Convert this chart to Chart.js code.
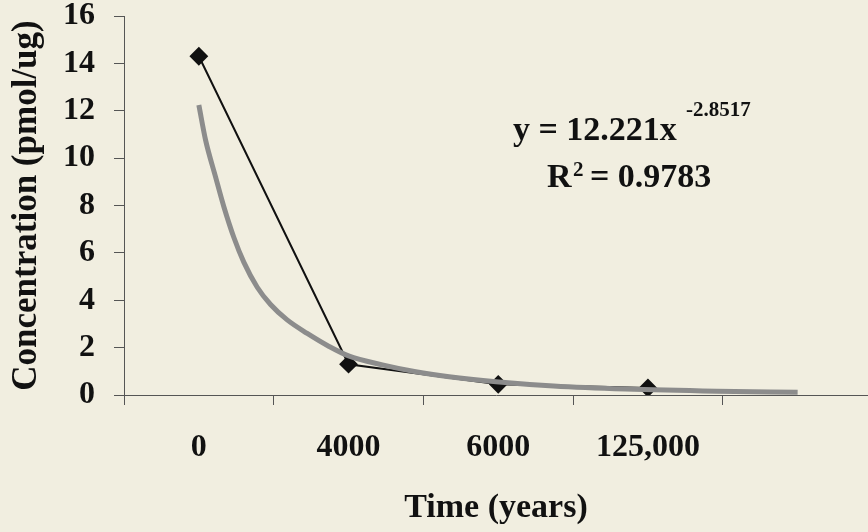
<!DOCTYPE html>
<html lang="en">
<head>
<meta charset="UTF-8">
<title>Concentration vs time</title>
<script src="https://cdn.jsdelivr.net/npm/chart.js"></script>
<style>
  html, body { margin: 0; padding: 0; background: #f1eee0; }
  #wrap { width: 868px; height: 532px; }
</style>
</head>
<body>
<div id="wrap"><canvas id="myChart" width="868" height="532"></canvas></div>
<script>
const categories = ['0', '4000', '6000', '125,000'];
const concentration = [14.3, 1.3, 0.45, 0.3];
// gray power trendline (x in category units)
const trendX = [0, 0.045, 0.112, 0.167, 0.234, 0.301, 0.39, 0.479, 0.59, 0.724, 0.87, 1.0, 1.226, 1.449, 1.672, 1.985, 2.37, 2.85, 3.46, 4.0];
const trendY = [12.24, 10.76, 9.2, 7.95, 6.65, 5.6, 4.55, 3.82, 3.17, 2.6, 2.05, 1.65, 1.27, 0.98, 0.77, 0.56, 0.38, 0.25, 0.16, 0.12];
const yMin = 0, yMax = 16, yStep = 2;
const equation = 'y = 12.221x';
const exponent = '-2.8517';
const rSquared = '0.9783';

const serif = '"Liberation Serif", "Times New Roman", serif';
const axisColor = '#555';

const equationLabel = {
    id: 'equationLabel',
    afterDraw(chart) {
        const ctx = chart.ctx;
        ctx.save();
        ctx.fillStyle = '#111';
        ctx.textBaseline = 'alphabetic';
        ctx.font = 'bold 34px ' + serif;
        ctx.fillText(equation, 513, 140);
        ctx.font = 'bold 21px ' + serif;
        ctx.fillText(exponent, 686, 116);
        ctx.font = 'bold 34px ' + serif;
        ctx.fillText('R', 547, 187);
        ctx.font = 'bold 21px ' + serif;
        ctx.fillText('2', 573, 176);
        ctx.font = 'bold 34px ' + serif;
        ctx.fillText('= ' + rSquared, 590, 187);
        ctx.restore();
    }
};

const ctx = document.getElementById('myChart').getContext('2d');
new Chart(ctx, {
    type: 'line',
    data: {
        datasets: [{
            label: 'Concentration',
            data: concentration.map((v, i) => ({ x: i, y: v })),
            borderColor: '#111',
            borderWidth: 2,
            pointStyle: 'rectRot',
            pointRadius: 8,
            pointBackgroundColor: '#111',
            pointBorderColor: '#111',
            order: 1
        }, {
            label: 'Power trendline',
            data: trendX.map((x, i) => ({ x: x, y: trendY[i] })),
            borderColor: '#8c8c8c',
            borderWidth: 5,
            pointRadius: 0,
            cubicInterpolationMode: 'monotone',
            order: 0
        }]
    },
    options: {
        responsive: false,
        animation: false,
        layout: { padding: 0, autoPadding: false },
        plugins: {
            legend: { display: false },
            tooltip: { enabled: false }
        },
        scales: {
            x: {
                type: 'linear',
                min: -0.5,
                max: 4.47,
                afterBuildTicks: s => {
                    const t = [];
                    categories.forEach((c, i) => { t.push({ value: i - 0.5 }); t.push({ value: i }); });
                    t.push({ value: categories.length - 0.5 });
                    s.ticks = t;
                },
                afterFit: s => { s.height = 137; s.paddingLeft = 0; s.paddingRight = 0; },
                border: { color: axisColor, width: 1 },
                grid: {
                    drawOnChartArea: false,
                    tickLength: 10,
                    color: c => (c.tick && Number.isInteger(c.tick.value)) ? 'rgba(0,0,0,0)' : axisColor
                },
                ticks: {
                    autoSkip: false,
                    maxRotation: 0,
                    padding: 24,
                    color: '#111',
                    font: { family: serif, size: 32, weight: 'bold' },
                    callback: v => Number.isInteger(v) ? categories[v] : ''
                },
                title: {
                    display: true,
                    text: 'Time (years)',
                    color: '#111',
                    font: { family: serif, size: 34, weight: 'bold' },
                    padding: { top: 0, bottom: 3 }
                }
            },
            y: {
                min: yMin,
                max: yMax,
                afterFit: s => { s.width = 124; s.paddingTop = 16; s.paddingBottom = 0; },
                border: { color: axisColor, width: 1 },
                grid: { drawOnChartArea: false, tickLength: 10, color: axisColor },
                ticks: {
                    stepSize: yStep,
                    padding: 19,
                    color: '#111',
                    font: { family: serif, size: 32, weight: 'bold' }
                },
                title: {
                    display: true,
                    text: 'Concentration (pmol/ug)',
                    color: '#111',
                    font: { family: serif, size: 35, weight: 'bold' },
                    padding: { top: 6, bottom: 0 }
                }
            }
        }
    },
    plugins: [equationLabel]
});
</script>
</body>
</html>
